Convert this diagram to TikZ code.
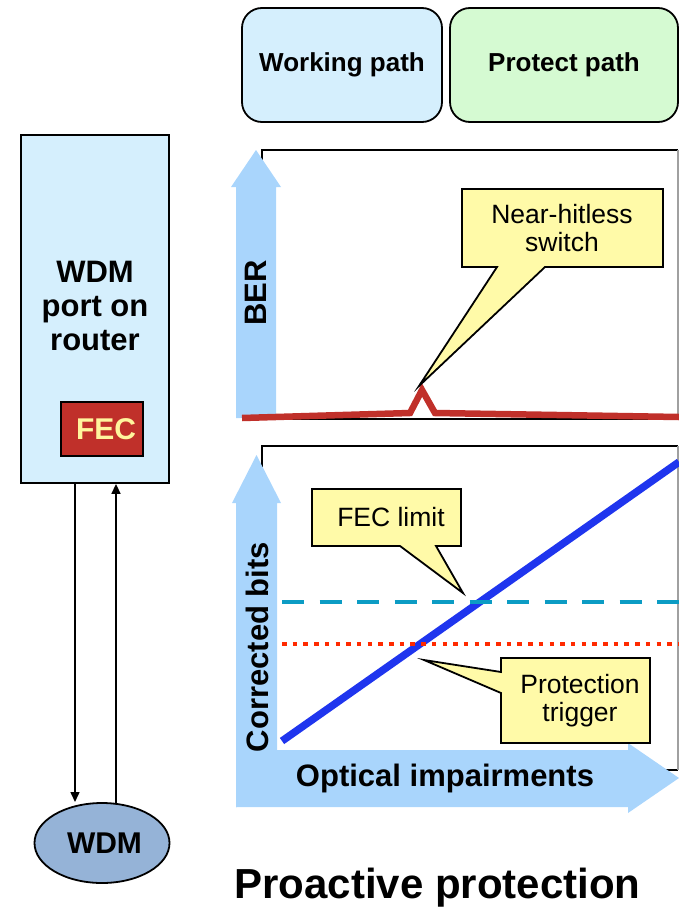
\documentclass[tikz,border=0pt]{standalone}
\usepackage{fontspec}
\setmainfont{Liberation Sans}
\usetikzlibrary{arrows.meta,shapes.geometric}
\definecolor{boxblue}{HTML}{D5EFFD}
\definecolor{boxgreen}{HTML}{D5FAD2}
\definecolor{arrowblue}{HTML}{A9D5FC}
\definecolor{wdmblue}{HTML}{95B3D7}
\definecolor{fecred}{HTML}{C0302A}
\definecolor{fecyellow}{HTML}{FFF59D}
\definecolor{callfill}{HTML}{FFFAA8}
\definecolor{lineblue}{HTML}{1F35EE}
\definecolor{limitteal}{HTML}{0C9CC4}
\definecolor{trigred}{HTML}{FF2A00}
\definecolor{framegray}{HTML}{A0A0A0}
\tikzset{
  pathbox/.style={draw=black, line width=1.8pt, rounded corners=20pt, minimum width=200pt, minimum height=114pt, font=\fontsize{26}{30}\selectfont\bfseries},
  axislabel/.style={font=\fontsize{31}{34}\selectfont\bfseries, inner sep=0pt},
  calltext/.style={font=\fontsize{26.5}{28}\selectfont, align=center, inner sep=0pt},
  callshape/.style={draw=black, fill=callfill, line width=1.8pt, line join=miter},
  axisarrow/.style={fill=arrowblue, draw=none},
  framel/.style={draw=black, line width=1.5pt},
  link/.style={draw=black, line width=1.5pt, -{Triangle[length=10pt,width=9pt]}},
}
\begin{document}
\begin{tikzpicture}[x=1pt,y=-1pt]
\useasboundingbox (0,0) rectangle (679,918);

% top path boxes
\node[pathbox, fill=boxblue] (work) at (342,65) {Working path};
\node[pathbox, fill=boxgreen, minimum width=228pt] (prot) at (564,65) {Protect path};

% left router port
\node[draw=black, fill=boxblue, line width=1.8pt, minimum width=148pt, minimum height=348pt] (port) at (95,309) {};
\node[align=center, font=\fontsize{31}{34}\selectfont\bfseries, inner sep=0pt] (porttext) at (95,306) {WDM\\port on\\router};
\node[draw=black, fill=fecred, line width=1.8pt, minimum width=82pt, minimum height=54pt, text=fecyellow, font=\fontsize{30}{32}\selectfont\bfseries, inner sep=0pt] (fec) at (102,429) {\hspace*{8pt}FEC};

% WDM ellipse
\node[ellipse, draw=black, fill=wdmblue, line width=1.8pt, minimum width=135pt, minimum height=80pt, font=\fontsize{30}{32}\selectfont\bfseries, inner sep=0pt] (wdm) at (102,843) {\hspace*{5pt}WDM};
\coordinate (downtop) at (75,483);
\coordinate (downbot) at (75,802);
\coordinate (uptop) at (116,483);
\coordinate (upbot) at (116,804);
\draw[link] (port.south -| downtop) -- (downbot);
\draw[link] (upbot) -- (port.south -| uptop);

% upper chart (BER)
\draw[framel] (262,419) -- (262,150) -- (678,150);
\draw[framel] (262,419) -- (678,419);
\draw[draw=framegray, line width=1.2pt] (678,150) -- (678,419);
\fill[axisarrow] (236,418) -- (236,187) -- (231,187) -- (256,150) -- (281,187) -- (276,187) -- (276,418) -- cycle;
\node[axislabel, rotate=90] (ber) at (256,293) {BER};
\draw[fecred, line width=6.5pt, line join=miter, miter limit=20] (242,418) -- (410,413) -- (422,390) -- (435,413) -- (679,417);
\draw[callshape] (462,189) -- (663,189) -- (663,267) -- (545,267) -- (419,386) -- (497,267) -- (462,267) -- cycle;
\node[calltext] (nhs) at (562,228) {Near-hitless\\switch};

% lower chart (corrected bits)
\draw[framel] (262,770) -- (262,446) -- (678,446);
\draw[framel] (262,770) -- (678,770);
\draw[draw=framegray, line width=1.2pt] (678,446) -- (678,770);
\fill[axisarrow] (236,808) -- (236,503) -- (232,503) -- (256.5,455) -- (281,503) -- (277,503) -- (277,750) -- (628,750) -- (628,743) -- (679,778) -- (628,813) -- (628,807) -- (236,807) -- cycle;
\node[axislabel, rotate=90] (cb) at (257,647) {Corrected bits};
\node[axislabel] (oi) at (445,778) {Optical impairments};

\draw[lineblue, line width=7.5pt] (282,741) -- (679,462);
\draw[limitteal, line width=4.5pt, dash pattern=on 22pt off 15.5pt] (282,602) -- (679,602);
\draw[trigred, line width=4.5pt, dash pattern=on 4.5pt off 6.2pt] (282,644) -- (679,644);

\draw[callshape] (312,489) -- (461,489) -- (461,546) -- (436,546) -- (463,593) -- (400,546) -- (312,546) -- cycle;
\node[calltext] (feclim) at (391,517) {FEC limit};
\draw[callshape] (501,658) -- (650,658) -- (650,743) -- (501,743) -- (501,693) -- (424,660) -- (501,672) -- cycle;
\node[calltext] (ptrig) at (580,701) {Protection\\trigger};

% title
\node[font=\fontsize{42}{46}\selectfont\bfseries, anchor=base, inner sep=0pt] (title) at (437.5,898) {Proactive protection};
\end{tikzpicture}
\end{document}
